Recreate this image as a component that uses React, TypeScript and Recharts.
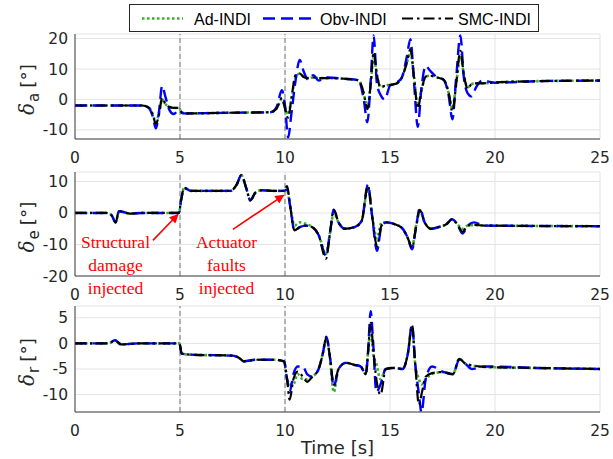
import React from 'react';
import { LineChart, Line, XAxis, YAxis, CartesianGrid, ReferenceLine, Legend } from 'recharts';

// ---------------- data ----------------
const X_TICKS = [0, 5, 10, 15, 20, 25];
const FAULT_TIMES = [5, 10];

// Panel 1 : aileron deflection
const T_A = [0, 3.2, 3.5, 3.7, 3.85, 4.0, 4.15, 4.3, 4.5, 4.7, 4.95, 5.1, 5.3, 7, 9.3, 9.6, 9.85, 10.0, 10.15, 10.3, 10.5, 10.7, 10.9, 11.1, 11.35, 11.6, 12, 13, 13.5, 13.75, 13.92, 14.08, 14.22, 14.38, 14.55, 14.75, 15.0, 15.3, 15.55, 15.8, 15.97, 16.15, 16.32, 16.5, 16.7, 16.9, 17.2, 17.55, 17.8, 17.97, 18.15, 18.35, 18.52, 18.7, 18.88, 19.1, 19.4, 20, 22, 25];
const AD_A = [-2, -2, -2.6, -4.8, -7.5, -4.5, 0, -1.5, -2.5, -2.8, -2.8, -4.3, -4.6, -4.4, -4.2, -3, 0, -2.5, -5, 0, 7, 8.5, 7.3, 7, 7.2, 7, 7, 6.7, 6.3, 2, -2.5, 5, 14, 8, 4, 4.5, 4.8, 5.2, 7, 12, 15.5, 7, -2, 3, 7.5, 7.8, 7.3, 6.5, 2, -3, 5, 14.5, 8, 4, 5, 5.3, 5.3, 5.6, 6, 6.2];
const OBV_A = [-2, -2, -2.7, -5.5, -9.5, -4, 4.5, 1, -3.5, -4.8, -3.5, -4.5, -4.6, -4.4, -4.2, -2.5, 3, -2, -12.5, -5, 6, 13, 9, 6.5, 8, 6.2, 7.2, 6.7, 6.3, 0, -7.5, 6, 21, 5, 1.5, 0, 4.5, 5.5, 7, 14, 19.8, 5, -9, 4, 11, 9.5, 7.5, 6.5, 1, -6.5, 7, 21, 7, 2, 1, 4, 6.2, 5.5, 6, 6.2];
const SMC_A = [-2, -2, -2.6, -5, -8, -5, 0.5, -1.5, -2.5, -2.8, -2.8, -4.3, -4.6, -4.4, -4.2, -3, 0.5, -3, -6, 0, 8, 8.5, 7.3, 7, 7.2, 7, 7, 6.7, 6.3, 2, -3.2, 5, 15.5, 8, 4, 4.5, 4.8, 5.2, 7, 12, 16.5, 7, -3, 3, 7.5, 7.8, 7.3, 6.5, 2, -4, 5, 16, 8, 3.5, 5, 5.3, 5.3, 5.6, 6, 6.2];
const Y_TICKS_A = [-10, 0, 10, 20];
const Y_DOMAIN_A = [-13, 21.5];

// Panel 2 : elevator deflection
const T_E = [0, 1.5, 1.75, 1.93, 2.1, 2.3, 2.6, 3.2, 4.95, 5.05, 5.2, 5.5, 7.4, 7.7, 7.92, 8.15, 8.35, 8.6, 8.9, 9.5, 9.95, 10.1, 10.25, 10.45, 10.7, 11.0, 11.3, 11.6, 11.95, 12.15, 12.32, 12.55, 12.85, 13.3, 13.65, 13.95, 14.15, 14.38, 14.6, 14.85, 15.2, 15.6, 15.85, 16.05, 16.25, 16.42, 16.65, 16.95, 17.3, 17.7, 17.95, 18.2, 18.45, 18.7, 19.0, 19.5, 25];
const SMC_E = [0, 0, -0.8, -3, 0.6, 0.3, -0.2, 0, 0, 4, 8, 7, 7, 9, 12, 8, 4, 6.5, 7.2, 7, 7, 8.5, 2, -5.5, -4.5, -4, -4.5, -7, -14.5, -6, 1, -3, -5, -4.5, -2.5, 8.5, -1, -10.5, -4, -3, -3.5, -5, -8, -11, -4, 1, -3, -5, -4.5, -3.5, -2, -3.5, -6, -4, -3.8, -4, -4.2];
const OBV_E = [0, 0, -0.8, -3, 0.6, 0.3, -0.2, 0, 0, 4, 8, 7, 7, 9, 12, 8, 4, 6.5, 7.2, 7, 7, 7.5, 2, -5.5, -4.5, -4, -4.5, -7, -13.5, -6, 1, -3, -5, -4.5, -2.5, 9, -1, -12, -4, -3, -3.5, -5, -8, -11.5, -4, 1.5, -3, -5, -4.5, -3.5, -2, -3.5, -6.5, -4, -3, -4, -4.2];
const AD_E = [0, 0, -0.8, -3, 0.6, 0.3, -0.2, 0, 0, 4, 8, 7, 7, 9, 12, 8, 4, 6.5, 7.2, 7, 7, 7, 2, -4, -3, -3.5, -4.5, -7, -13, -6, 0, -3, -5, -4.5, -2.5, 8, -1, -8, -3, -3, -3.5, -5, -8, -10.5, -4, 0.5, -3, -5, -4.5, -3.5, -2, -3.5, -5, -4, -3.8, -4, -4.2];
const Y_TICKS_E = [-20, -10, 0, 10];
const Y_DOMAIN_E = [-20, 13];

// Panel 3 : rudder deflection
const T_R = [0, 1.6, 1.9, 2.2, 3, 4.97, 5.08, 5.5, 7.5, 7.8, 8.05, 8.6, 9.5, 9.95, 10.1, 10.22, 10.4, 10.6, 10.85, 11.05, 11.3, 11.6, 11.8, 11.97, 12.15, 12.32, 12.55, 12.9, 13.3, 13.6, 13.85, 13.95, 14.08, 14.2, 14.35, 14.55, 14.8, 15.2, 15.6, 15.85, 16.05, 16.2, 16.38, 16.5, 16.7, 17.0, 17.5, 18.0, 18.3, 18.6, 18.9, 19.5, 22, 25];
const SMC_R = [0, 0, 0.6, -0.2, 0, 0, -2, -2.2, -2.4, -2.8, -3.5, -3.2, -3.2, -3.5, -7, -11, -7, -5.5, -6.5, -7.5, -6.5, -5, -2, 1.2, -3, -8, -5, -3.8, -4.2, -4.5, -6, -2, 4, -1, -7, -10, -5, -4.8, -5, -2, 3.5, -4, -12, -10, -6.5, -5.8, -5.6, -6, -3, -4, -4.3, -4.6, -4.8, -5];
const OBV_R = [0, 0, 0.6, -0.2, 0, 0, -2, -2.2, -2.4, -2.8, -3.5, -3.2, -3.2, -3.5, -7, -9.5, -6, -4.5, -4.5, -6, -6.5, -5, -2, 1.3, -3, -8.5, -5, -3.8, -4.2, -4.5, -6, -2, 6.3, 0, -9.5, -8, -5, -4.8, -5, -2, 3.7, -4, -10, -13.5, -7, -4.5, -5.5, -6, -3.2, -4, -5, -4.5, -4.8, -5];
const AD_R = [0, 0, 0.6, -0.2, 0, 0, -2, -2.2, -2.4, -2.8, -3.5, -3.2, -3.2, -3.5, -7, -8, -8, -6, -7, -7, -6.5, -5, -2, 1, -3, -9.5, -5, -3.8, -4.2, -4.5, -6, -2, 3, -2, -4, -7, -5, -4.8, -5, -2, 3, -4, -7, -8, -7, -6, -5.6, -6, -3, -4, -4.3, -4.6, -4.8, -5];
const Y_TICKS_R = [-10, -5, 0, 5];
const Y_DOMAIN_R = [-13.4, 7.3];

// annotation arrows (data coordinates of panel 2)
const ARROW_DAMAGE = [{ x: 3.71, y: -8.7 }, { x: 4.9, y: -0.5 }];
const ARROW_ACTUATOR = [{ x: 7.52, y: -5.2 }, { x: 9.93, y: 5.6 }];

// ---------------- styles ----------------
const GREEN = '#3dae2b';
const BLUE = '#0000ff';
const BLACK = '#000000';
const AXIS = '#404040';
const GRID = '#e3e3e3';
const TICK_FONT = '"DejaVu Sans", Verdana, sans-serif';

const SERIES = [
  { key: 'ad', name: 'Ad-INDI', color: GREEN, dash: '2.5 2.5', width: 2.6 },
  { key: 'obv', name: 'Obv-INDI', color: BLUE, dash: '12 6', width: 2.4 },
  { key: 'smc', name: 'SMC-INDI', color: BLACK, dash: '11 4 2.5 4', width: 2.2 },
];

const toRows = (t: number[], ad: number[], obv: number[], smc: number[]) =>
  t.map((tt, i) => ({ t: tt, ad: ad[i], obv: obv[i], smc: smc[i] }));

const ROWS_A = toRows(T_A, AD_A, OBV_A, SMC_A);
const ROWS_E = toRows(T_E, AD_E, OBV_E, SMC_E);
const ROWS_R = toRows(T_R, AD_R, OBV_R, SMC_R);

function YLabel(props: any) {
  const { viewBox, sub } = props;
  const cx = 34;
  const cy = viewBox.y + viewBox.height / 2 + 3;
  return (
    <text
      x={cx}
      y={cy}
      transform={`rotate(-90 ${cx} ${cy})`}
      textAnchor="middle"
      fontFamily={TICK_FONT}
      fontSize={18.5}
      fill="#262626"
    >
      <tspan fontStyle="italic" fontFamily='"DejaVu Serif", serif' fontSize={20}>δ</tspan>
      <tspan fontSize={15} dy={5} dx={1}>{sub}</tspan>
      <tspan dy={-5} dx={5}>[°]</tspan>
    </text>
  );
}

function TimeLabel(props: any) {
  const { viewBox } = props;
  return (
    <text
      x={viewBox.x + viewBox.width / 2}
      y={viewBox.y + 42}
      textAnchor="middle"
      fontFamily={TICK_FONT}
      fontSize={18}
      fill="#262626"
    >
      Time [s]
    </text>
  );
}

function LegendBox() {
  const items = [
    { s: SERIES[0], x1: 13, x2: 54, tx: 65 },
    { s: SERIES[1], x1: 134, x2: 188, tx: 191 },
    { s: SERIES[2], x1: 273, x2: 324, tx: 329 },
  ];
  return (
    <svg width={410} height={28} style={{ display: 'block' }}>
      <rect x={0.5} y={0.5} width={409} height={27} fill="#fff" stroke="#262626" strokeWidth={1} />
      {items.map((it) => (
        <g key={it.s.key}>
          <line
            x1={it.x1}
            x2={it.x2}
            y1={14.5}
            y2={14.5}
            stroke={it.s.color}
            strokeWidth={it.s.width}
            strokeDasharray={it.s.dash}
          />
          <text
            x={it.tx}
            y={21}
            fontFamily='"Liberation Sans", Arial, sans-serif'
            fontSize={16}
            fill="#000"
          >
            {it.s.name}
          </text>
        </g>
      ))}
    </svg>
  );
}

type PanelProps = {
  rows: any[];
  top: number;
  height: number;
  marginTop: number;
  plotHeight: number;
  yDomain: number[];
  yTicks: number[];
  sub: string;
  withLegend?: boolean;
  withTime?: boolean;
  arrows?: { x: number; y: number }[][];
};

function Panel(p: PanelProps) {
  const xAxisHeight = p.height - p.marginTop - p.plotHeight;
  return (
    <div style={{ position: 'absolute', left: 0, top: p.top }}>
      <LineChart
        width={613}
        height={p.height}
        data={p.rows}
        margin={{ top: p.marginTop, right: 13, bottom: 0, left: 0 }}
      >
        <CartesianGrid stroke={GRID} strokeWidth={1} />
        <XAxis
          dataKey="t"
          type="number"
          domain={[0, 25]}
          ticks={X_TICKS}
          interval={0}
          allowDataOverflow
          height={xAxisHeight}
          tickSize={0}
          tickMargin={13}
          axisLine={{ stroke: AXIS, strokeWidth: 1 }}
          tick={{ fill: '#262626', fontSize: 15.5, fontFamily: TICK_FONT }}
          label={p.withTime ? <TimeLabel /> : undefined}
        />
        <YAxis
          type="number"
          domain={p.yDomain}
          ticks={p.yTicks}
          interval={0}
          allowDataOverflow
          width={75}
          tickSize={0}
          tickMargin={7}
          axisLine={{ stroke: AXIS, strokeWidth: 1 }}
          tick={{ fill: '#262626', fontSize: 15.5, fontFamily: TICK_FONT }}
          label={<YLabel sub={p.sub} />}
        />
        {FAULT_TIMES.map((ft) => (
          <ReferenceLine key={ft} x={ft} stroke="#8a8a8a" strokeWidth={1.2} strokeDasharray="5 3" />
        ))}
        {SERIES.map((s) => (
          <Line
            key={s.key}
            type="monotone"
            dataKey={s.key}
            name={s.name}
            stroke={s.color}
            strokeWidth={s.width}
            strokeDasharray={s.dash}
            dot={false}
            activeDot={false}
            isAnimationActive={false}
          />
        ))}
        {(p.arrows || []).map((seg, i) => (
          <ReferenceLine
            key={'arr' + i}
            segment={seg}
            stroke="#ff0000"
            strokeWidth={1.6}
            markerEnd="url(#redArrowHead)"
            ifOverflow="visible"
          />
        ))}
        {p.withLegend ? (
          <Legend
            layout="horizontal"
            verticalAlign="middle"
            align="center"
            content={<LegendBox />}
            wrapperStyle={{ top: 4, left: 129, width: 410, height: 28 }}
          />
        ) : null}
      </LineChart>
    </div>
  );
}

const ANNOT_FONT = '"Liberation Serif", "Times New Roman", serif';

export default function App() {
  return (
    <div style={{ position: 'absolute', left: 0, top: 0, width: 613, height: 459, background: '#fff', overflow: 'hidden' }}>
      <svg width={0} height={0} style={{ position: 'absolute' }}>
        <defs>
          <marker
            id="redArrowHead"
            viewBox="0 0 10 10"
            refX={9}
            refY={5}
            markerWidth={11}
            markerHeight={9}
            markerUnits="userSpaceOnUse"
            orient="auto"
          >
            <path d="M0,0 L10,5 L0,10 z" fill="#ff0000" />
          </marker>
        </defs>
      </svg>
      <Panel rows={ROWS_A} top={0} height={172} marginTop={34} plotHeight={105} yDomain={Y_DOMAIN_A} yTicks={Y_TICKS_A} sub="a" withLegend />
      <Panel
        rows={ROWS_E}
        top={150}
        height={160}
        marginTop={22}
        plotHeight={104}
        yDomain={Y_DOMAIN_E}
        yTicks={Y_TICKS_E}
        sub="e"
        arrows={[ARROW_DAMAGE, ARROW_ACTUATOR]}
      />
      <Panel rows={ROWS_R} top={290} height={169} marginTop={16} plotHeight={106} yDomain={Y_DOMAIN_R} yTicks={Y_TICKS_R} sub="r" withTime />
      <svg width={613} height={459} style={{ position: 'absolute', left: 0, top: 0, pointerEvents: 'none' }}>
        <g fontFamily={ANNOT_FONT} fontSize={17.5} fill="#ff0000" textAnchor="middle">
          <text x={115.5} y={248}>Structural</text>
          <text x={115.5} y={271}>damage</text>
          <text x={115.5} y={294}>injected</text>
          <text x={226.5} y={248}>Actuator</text>
          <text x={226.5} y={271}>faults</text>
          <text x={226.5} y={294}>injected</text>
        </g>
      </svg>
    </div>
  );
}
